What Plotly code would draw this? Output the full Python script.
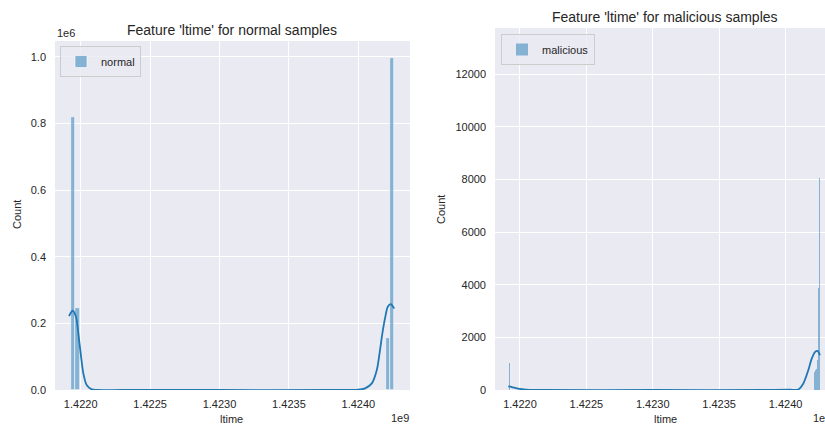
import plotly.graph_objects as go

# ---------------- data ----------------
# 'normal' histogram (bin starts in seconds, counts)
normal_bin_starts = [1421930000, 1421961000, 1424197000, 1424228000]
normal_bin_width = 31000
normal_counts = [819000, 245000, 155000, 996000]

# KDE curve for normal samples
normal_kde_x = [1421916000, 1421942000, 1421966000, 1421983000, 1422000000, 1422019000,
                1422043000, 1422079000, 1422115000, 1422300000, 1423000000, 1423800000,
                1424000000, 1424048000, 1424097000, 1424133000, 1424156000, 1424173000,
                1424192000, 1424212000, 1424233000, 1424250000, 1424259000]
normal_kde_y = [222000, 238000, 220000, 170000, 110000, 50000,
                15000, 2000, 0, 0, 0, 0,
                1000, 5000, 20000, 60000, 120000, 170000,
                215000, 250000, 258000, 250000, 245000]

# 'malicious' histogram
mal_bin_starts = [1421919000, 1424214000, 1424219000, 1424224000, 1424229000,
                  1424234000, 1424239000, 1424244000, 1424249000, 1424254000]
mal_bin_width = 5000
mal_counts = [1030, 700, 740, 760, 780, 800, 1130, 3870, 5530, 8070]

mal_kde_x = [1421912000, 1421935000, 1421955000, 1421985000, 1422013000, 1422045000,
             1422075000, 1422150000, 1423000000, 1423900000, 1424033000, 1424096000,
             1424133000, 1424171000, 1424197000, 1424221000, 1424242000, 1424259000]
mal_kde_y = [140, 120, 90, 55, 30, 12,
             5, 0, 0, 0, 10, 20,
             240, 750, 1190, 1440, 1480, 1320]

x_tickvals = [1422000000, 1422500000, 1423000000, 1423500000, 1424000000]
x_ticktext = ["1.4220", "1.4225", "1.4230", "1.4235", "1.4240"]
left_y_tickvals = [0, 200000, 400000, 600000, 800000, 1000000]
left_y_ticktext = ["0.0", "0.2", "0.4", "0.6", "0.8", "1.0"]
right_y_tickvals = [0, 2000, 4000, 6000, 8000, 10000, 12000]
right_y_ticktext = ["0", "2000", "4000", "6000", "8000", "10000", "12000"]

# ---------------- figure ----------------
W, H = 825, 428
FONT = "Liberation Sans, Arial, sans-serif"
TXT = "#262626"
BAR = "rgba(31,119,180,0.5)"
LINE = "#1f77b4"
BG = "#EAEAF2"

fig = go.Figure()

fig.add_trace(go.Bar(x=normal_bin_starts, y=normal_counts, width=normal_bin_width, offset=0,
                     marker=dict(color=BAR, line=dict(color="white", width=0.6)),
                     name="normal", xaxis="x", yaxis="y", legend="legend"))
fig.add_trace(go.Scatter(x=normal_kde_x, y=normal_kde_y, mode="lines",
                         line=dict(color=LINE, width=1.8, shape="spline", smoothing=0.8),
                         showlegend=False, xaxis="x", yaxis="y"))
fig.add_trace(go.Bar(x=mal_bin_starts, y=mal_counts, width=mal_bin_width, offset=0,
                     marker=dict(color=BAR, line=dict(width=0)),
                     name="malicious", xaxis="x2", yaxis="y2", legend="legend2"))
fig.add_trace(go.Scatter(x=mal_kde_x, y=mal_kde_y, mode="lines",
                         line=dict(color=LINE, width=1.8, shape="spline", smoothing=0.8),
                         showlegend=False, xaxis="x2", yaxis="y2"))

def px_x(p):
    return p / W

def px_y(p):
    return (H - p) / H

axis_common = dict(showgrid=True, gridcolor="white", gridwidth=1, zeroline=False,
                   showline=False, ticks="", automargin=False,
                   tickfont=dict(family=FONT, size=11, color=TXT))

fig.update_layout(
    template="none",
    width=W, height=H,
    margin=dict(l=0, r=0, t=0, b=0, autoexpand=False),
    paper_bgcolor="white", plot_bgcolor=BG,
    bargap=0, barmode="overlay",
    font=dict(family=FONT, size=11, color=TXT),
    xaxis=dict(domain=[px_x(55), px_x(410)], range=[1421815000, 1424372000],
               tickvals=x_tickvals, ticktext=x_ticktext, anchor="y",
               ticklabelstandoff=6, **axis_common),
    yaxis=dict(domain=[px_y(390), px_y(41)], range=[0, 1048000],
               tickvals=left_y_tickvals, ticktext=left_y_ticktext, anchor="x",
               ticklabelstandoff=8, **axis_common),
    xaxis2=dict(domain=[px_x(495), 1.0], range=[1421812000, 1424297000],
                tickvals=x_tickvals, ticktext=x_ticktext, anchor="y2",
                ticklabelstandoff=6, **axis_common),
    yaxis2=dict(domain=[px_y(390), px_y(28)], range=[0, 13750],
                tickvals=right_y_tickvals, ticktext=right_y_ticktext, anchor="x2",
                ticklabelstandoff=8, **axis_common),
    legend=dict(x=px_x(60), y=px_y(46), xanchor="left", yanchor="top",
                bgcolor="rgba(234,234,242,0.8)", bordercolor="#cccccc", borderwidth=1,
                itemwidth=30, tracegroupgap=0,
                font=dict(family=FONT, size=11, color=TXT)),
    legend2=dict(x=px_x(501), y=px_y(34), xanchor="left", yanchor="top",
                 bgcolor="rgba(234,234,242,0.8)", bordercolor="#cccccc", borderwidth=1,
                 itemwidth=30, tracegroupgap=0,
                 font=dict(family=FONT, size=11, color=TXT)),
)

ann = []
def text(x, y, s, size=11, xanchor="center", angle=0):
    ann.append(dict(x=px_x(x), y=px_y(y), xref="paper", yref="paper", text=s,
                    showarrow=False, xanchor=xanchor, yanchor="middle", textangle=angle,
                    font=dict(family=FONT, size=size, color=TXT)))

text(232, 30, "Feature 'ltime' for normal samples", size=14)
text(665, 17, "Feature 'ltime' for malicious samples", size=14)
text(17, 215, "Count", angle=-90)
text(441, 210, "Count", angle=-90)
text(232, 419, "ltime")
text(665, 419, "ltime")
text(55, 33, "1e6", xanchor="left")
text(400, 418, "1e9")
text(822, 418, "1e9")
fig.update_layout(annotations=ann)

fig.write_html("out.html")
